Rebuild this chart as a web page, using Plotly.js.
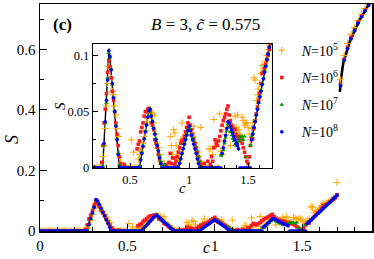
<!DOCTYPE html>
<html>
<head>
<meta charset="utf-8">
<script src="https://cdn.plot.ly/plotly-3.0.1.min.js"></script>
<style>html,body{margin:0;padding:0;background:#fff;}#chart{width:374px;height:259px;}</style>
</head>
<body>
<div id="chart"></div>
<script>
// c grid (shared by all N)
const cGrid = [
0.00,0.01,0.02,0.03,0.04,0.05,0.06,0.07,0.08,0.09,
0.10,0.11,0.12,0.13,0.14,0.15,0.16,0.17,0.18,0.19,
0.20,0.21,0.22,0.23,0.24,0.25,0.26,0.27,0.28,0.29,
0.30,0.31,0.32,0.33,0.34,0.35,0.36,0.37,0.38,0.39,
0.40,0.41,0.42,0.43,0.44,0.45,0.46,0.47,0.48,0.49,
0.50,0.51,0.52,0.53,0.54,0.55,0.56,0.57,0.58,0.59,
0.60,0.61,0.62,0.63,0.64,0.65,0.66,0.67,0.68,0.69,
0.70,0.71,0.72,0.73,0.74,0.75,0.76,0.77,0.78,0.79,
0.80,0.81,0.82,0.83,0.84,0.85,0.86,0.87,0.88,0.89,
0.90,0.91,0.92,0.93,0.94,0.95,0.96,0.97,0.98,0.99,
1.00,1.01,1.02,1.03,1.04,1.05,1.06,1.07,1.08,1.09,
1.10,1.11,1.12,1.13,1.14,1.15,1.16,1.17,1.18,1.19,
1.20,1.21,1.22,1.23,1.24,1.25,1.26,1.27,1.28,1.29,
1.30,1.31,1.32,1.33,1.34,1.35,1.36,1.37,1.38,1.39,
1.40,1.41,1.42,1.43,1.44,1.45,1.46,1.47,1.48,1.49,
1.50,1.51,1.52,1.53,1.54,1.55,1.56,1.57,1.58,1.59,
1.60,1.61,1.62,1.63,1.64,1.65,1.66,1.67,1.68,1.69,
1.70,1.72,1.74,1.76,1.78,1.80,1.82,1.84,1.86,1.88];

// N = 10^5
const sN5 = [
0,0,0,0,0,0,0,0,0,0,
0,0,0,0,0,0,0,0,0,0,
0,0,0,0,0,0,0,0.010,0.020,0.035,
0.055,0.075,0.090,0.088,0.080,0.068,0.065,0.055,0.047,0.035,
0.028,0.013,0.005,0,0,0,0,0,0,0,
0,0.025,0,0.014,0,0,0,0.008,0.012,0.015,
0.018,0.022,0.028,0.033,0.040,0.044,0.050,0.051,0.049,0.047,
0.040,0.047,0.030,0.022,0.018,0.012,0.006,0.003,0,0.004,
0,0,0,0,0.028,0.020,0.012,0.034,0.031,0.020,
0.012,0.008,0.015,0.025,0.040,0.022,0.026,0.030,0.033,0.036,
0.037,0.034,0.031,0.028,0.037,0.022,0.018,0.014,0.010,0.006,
0.036,0.004,0,0,0,0,0,0.017,0.017,0,
0.012,0.043,0,0.020,0,0,0.048,0.015,0.012,0.018,
0.024,0.030,0.036,0.041,0.040,0.020,0.038,0.035,0.032,0.046,
0.036,0.047,0.034,0.030,0.028,0.045,0.042,0.038,0.040,0.040,
0.036,0.030,0.025,0.035,0.040,0.080,0.078,0.060,0.065,0.070,
0.075,0.084,0.091,0.088,0.092,0.095,0.100,0.105,0.109,0.112,
0.160,0.500,0.580,0.620,0.650,0.672,0.695,0.715,0.735,0.750];

// N = 10^6
const sN6 = [
0,0,0,0,0,0,0,0,0,0,
0,0,0,0,0,0,0,0,0,0,
0,0,0,0,0,0,0.005,0.020,0.040,0.052,
0.066,0.085,0.095,0.090,0.080,0.068,0.060,0.050,0.040,0.030,
0.020,0.010,0.004,0,0,0.003,0,0,0,0,
0,0,0,0,0,0,0.017,0.021,0.024,0.032,
0.036,0.040,0.046,0.050,0.050,0.052,0.053,0.050,0.040,0.038,
0.034,0.025,0.022,0.018,0.012,0.008,0.004,0.002,0,0,
0,0.003,0,0.005,0.013,0.004,0.009,0.009,0.003,0.006,
0.010,0.014,0.018,0.022,0.024,0.025,0.028,0.032,0.036,0.040,
0.045,0.038,0.034,0.030,0.026,0.022,0.018,0.014,0.010,0.006,
0.003,0,0,0.004,0,0,0.006,0,0.003,0.010,
0.006,0.018,0.025,0.022,0.020,0.024,0.028,0.033,0.038,0.042,
0.045,0.048,0.052,0.055,0.047,0.042,0.038,0.036,0.034,0.034,
0.030,0.028,0.026,0.024,0.026,0.022,0.018,0.014,0.010,0.006,
0.004,0.010,0.020,0.026,0.026,0.035,0.042,0.048,0.054,0.060,
0.066,0.075,0.084,0.085,0.088,0.092,0.096,0.100,0.105,0.110,
0.120,0.485,0.567,0.607,0.640,0.665,0.690,0.710,0.730,0.748];

// N = 10^7
const sN7 = [
0,0,0,0,0,0,0,0,0,0,
0,0,0,0,0,0,0,0,0,0,
0,0,0,0,0,0,0,0.002,0.020,0.040,
0.058,0.080,0.102,0.098,0.088,0.074,0.063,0.051,0.038,0.026,
0.013,0.003,0,0,0,0,0,0,0,0,
0,0,0,0,0,0,0,0,0.002,0.008,
0.014,0.020,0.026,0.033,0.039,0.046,0.050,0.053,0.047,0.042,
0.036,0.031,0.026,0.021,0.016,0.011,0.006,0.002,0,0.003,
0,0,0,0,0,0,0,0,0,0,
0,0.001,0.005,0.009,0.013,0.017,0.022,0.026,0.030,0.034,
0.036,0.034,0.030,0.027,0.024,0.020,0.016,0.013,0.010,0.006,
0.002,0,0,0,0,0,0,0,0,0,
0,0,0,0,0,0,0,0.011,0.012,0.016,
0.022,0.027,0.033,0.039,0.036,0.032,0.029,0.026,0.024,0.021,
0.020,0.022,0.024,0.028,0.026,0.028,0.025,0.028,0.010,0,
0,0,0.020,0.028,0.031,0.036,0.042,0.047,0.053,0.058,
0.064,0.069,0.075,0.080,0.086,0.091,0.097,0.102,0.108,0.113,
0.119,0.482,0.563,0.605,0.634,0.663,0.687,0.707,0.728,0.746];

// N = 10^8
const sN8 = [
0,0,0,0,0,0,0,0,0,0,
0,0,0,0,0,0,0,0,0,0,
0,0,0,0,0,0,0,0,0.022,0.041,
0.060,0.078,0.104,0.099,0.087,0.075,0.062,0.050,0.037,0.025,
0.012,0.001,0,0,0,0,0,0,0,0,
0,0,0,0,0,0,0,0,0,0.007,
0.013,0.019,0.026,0.032,0.038,0.045,0.051,0.052,0.046,0.041,
0.035,0.030,0.025,0.020,0.015,0.009,0.004,0,0,0,
0,0,0,0,0,0,0,0,0,0,
0,0,0.004,0.008,0.013,0.017,0.021,0.025,0.029,0.033,
0.037,0.033,0.029,0.025,0.021,0.017,0.013,0.008,0.004,0,
0,0,0,0,0,0,0,0,0,0,
0,0,0,0,0,0,0,0,0.013,0.018,
0.024,0.029,0.035,0.041,0.040,0.037,0.034,0.031,0.028,0.025,
0.022,0.020,0.017,0,0,0,0,0,0,0,
0,0,0,0.025,0.030,0.036,0.041,0.047,0.052,0.058,
0.063,0.068,0.074,0.079,0.085,0.090,0.096,0.101,0.107,0.112,
0.118,0.480,0.565,0.603,0.636,0.662,0.686,0.708,0.727,0.745];

// black reference curve (null = break)
const lineC = [0,0.268,0.322,0.41,0.579,0.665,0.768,0.91,1.0,1.09,1.268,null,1.277,1.333,1.425,null,1.525,1.705,null,1.716,1.722,1.735,1.773,1.83,1.887];
const lineS = [0,0,0.106,0,0,0.054,0,0,0.0375,0,0,null,0.0115,0.0425,0.016,null,0.022,0.12,null,0.46,0.50,0.554,0.626,0.698,0.753];

const seriesNames = ['<i>N</i>=10<sup>5</sup>','<i>N</i>=10<sup>6</sup>','<i>N</i>=10<sup>7</sup>','<i>N</i>=10<sup>8</sup>'];
const seriesData = [sN5, sN6, sN7, sN8];
const seriesColors = ['#ffa500', '#ff1a1a', '#009900', '#0000ff'];
const seriesSymbols = ['cross-thin', 'square', 'triangle-up', 'circle'];

const FONT = 'Times New Roman';

const traces = [];
[['x','y',2.6],['x2','y2',1.4]].forEach(([xa,ya,lw]) => {
  traces.push({x: lineC, y: lineS, xaxis: xa, yaxis: ya, mode: 'lines', connectgaps: false,
    line: {color: 'black', width: lw}, showlegend: false, hoverinfo: 'skip'});
});
[['x','y',true],['x2','y2',false]].forEach(([xa,ya,leg]) => {
  seriesData.forEach((s, i) => {
    const sym = seriesSymbols[i];
    const thin = sym === 'cross-thin';
    traces.push({
      x: cGrid, y: s, xaxis: xa, yaxis: ya, mode: 'markers', name: seriesNames[i],
      showlegend: leg, legendgroup: 'g' + i,
      marker: thin ? {symbol: sym, size: 5, color: seriesColors[i], line: {color: seriesColors[i], width: 1}}
                   : {symbol: sym, size: sym === 'triangle-up' ? 4.2 : 3.6, color: seriesColors[i], line: {width: 0}}
    });
  });
});

const axBase = {showgrid: false, zeroline: false, showline: true, mirror: true, linecolor: 'black',
  ticks: 'inside', tickcolor: 'black', tickwidth: 1};

const px = (x) => (x - 40) / 332;
const py = (y) => (231 - y) / 227;

const layout = {
  width: 374, height: 259,
  margin: {l: 40, r: 2, t: 4, b: 28},
  paper_bgcolor: 'white', plot_bgcolor: 'white',
  font: {family: FONT, color: 'black', size: 14},
  showlegend: true,
  legend: {x: 0.668, y: 0.865, xanchor: 'left', yanchor: 'top', bgcolor: 'rgba(0,0,0,0)',
    font: {family: FONT, size: 14, color: 'black'}, tracegroupgap: 6, itemwidth: 30},
  xaxis: Object.assign({}, axBase, {domain: [0, 1], range: [0, 1.9], linewidth: 1.5,
    tickvals: [0, 0.5, 1, 1.5], ticktext: ['0', '0.5', '1', '1.5'], ticklen: 7,
    minor: {dtick: 0.1, ticks: 'inside', ticklen: 4, tickcolor: 'black'},
    tickfont: {family: FONT, size: 15, color: 'black'}}),
  yaxis: Object.assign({}, axBase, {domain: [0, 1], range: [0, 0.75], linewidth: 1.5,
    tickvals: [0, 0.2, 0.4, 0.6], ticktext: ['0', '0.2', '0.4', '0.6'], ticklen: 7,
    minor: {dtick: 0.1, ticks: 'inside', ticklen: 4, tickcolor: 'black'},
    tickfont: {family: FONT, size: 15, color: 'black'}}),
  xaxis2: Object.assign({}, axBase, {domain: [0.1596, 0.6988], anchor: 'y2', range: [0.186, 1.703], linewidth: 1.2,
    tickvals: [0.5, 1, 1.5], ticktext: ['0.5', '1', '1.5'], ticklen: 5,
    minor: {dtick: 0.1, ticks: 'inside', ticklen: 3, tickcolor: 'black'},
    tickfont: {family: FONT, size: 12.5, color: 'black'}}),
  yaxis2: Object.assign({}, axBase, {domain: [0.2775, 0.8238], anchor: 'x2', range: [0, 0.11], linewidth: 1.2,
    tickvals: [0, 0.05, 0.1], ticktext: ['0', '0.05', '0.1'], ticklen: 5,
    minor: {dtick: 0.025, ticks: 'inside', ticklen: 3, tickcolor: 'black'},
    tickfont: {family: FONT, size: 12.5, color: 'black'}}),
  annotations: [
    {text: '<b>(c)</b>', xref: 'paper', yref: 'paper', x: px(62), y: py(24),
     xanchor: 'center', yanchor: 'middle', showarrow: false, font: {family: FONT, size: 17, color: 'black'}},
    {text: '<i>B</i> = 3, <i>c\u0303</i> = 0.575', xref: 'paper', yref: 'paper', x: px(205), y: py(24),
     xanchor: 'center', yanchor: 'middle', showarrow: false, font: {family: FONT, size: 17, color: 'black'}},
    {text: '<i>c</i>', xref: 'paper', yref: 'paper', x: px(206), y: py(248),
     xanchor: 'center', yanchor: 'middle', showarrow: false, font: {family: FONT, size: 16, color: 'black'}},
    {text: '<i>S</i>', xref: 'paper', yref: 'paper', x: px(12), y: py(140), textangle: -90,
     xanchor: 'center', yanchor: 'middle', showarrow: false, font: {family: FONT, size: 18, color: 'black'}},
    {text: '<i>c</i>', xref: 'paper', yref: 'paper', x: px(182), y: py(188),
     xanchor: 'center', yanchor: 'middle', showarrow: false, font: {family: FONT, size: 15, color: 'black'}},
    {text: '<i>S</i>', xref: 'paper', yref: 'paper', x: px(60), y: py(106), textangle: -90,
     xanchor: 'center', yanchor: 'middle', showarrow: false, font: {family: FONT, size: 15, color: 'black'}}
  ]
};

Plotly.newPlot('chart', traces, layout, {staticPlot: true});
</script>
</body>
</html>
